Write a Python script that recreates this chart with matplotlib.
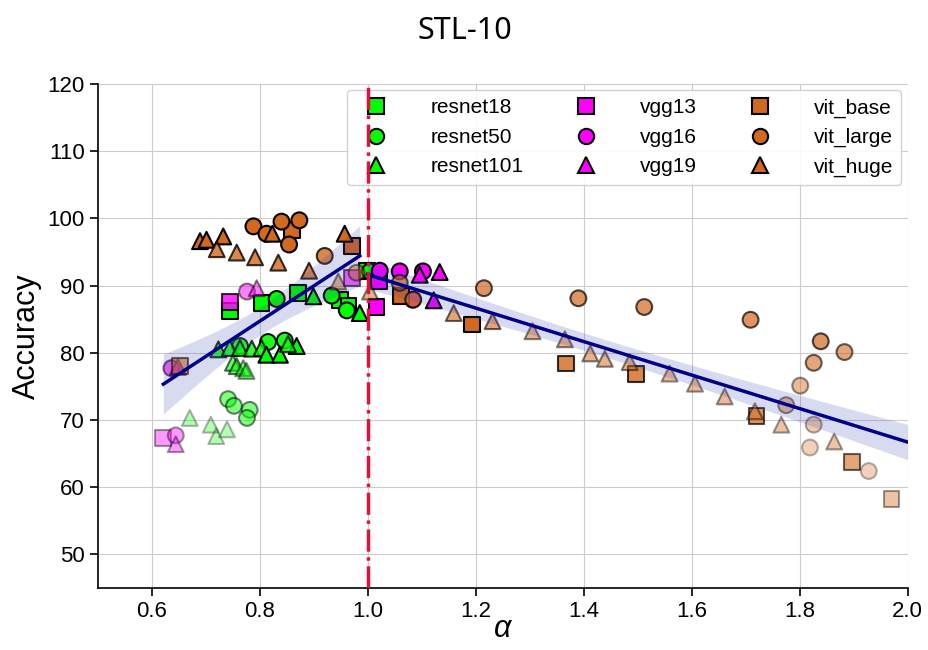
import numpy as np
import matplotlib
matplotlib.use("Agg")
import matplotlib.pyplot as plt
from matplotlib.lines import Line2D

plt.rcParams['font.family'] = ['Liberation Sans', 'DejaVu Sans']

# data: alpha (x) and accuracy (y) per model, plus point opacity
resnet18_x = [0.744, 0.803, 0.871, 0.948, 0.964, 0.999]
resnet18_y = [86.2, 87.4, 88.9, 87.9, 86.9, 92.1]
resnet18_op = [1.0, 1.0, 1.0, 1.0, 1.0, 1.0]

resnet50_x = [0.831, 0.933, 0.961, 1.004, 0.763, 0.815, 0.846, 0.741, 0.752, 0.781, 0.776]
resnet50_y = [88.0, 88.5, 86.3, 92.1, 81.0, 81.6, 81.8, 73.1, 72.1, 71.5, 70.3]
resnet50_op = [1.0, 1.0, 1.0, 1.0, 0.8, 0.9, 0.9, 0.5, 0.5, 0.5, 0.5]

resnet101_x = [0.723, 0.744, 0.763, 0.785, 0.803, 0.812, 0.837, 0.868, 0.852, 0.750, 0.757,
               0.769, 0.775, 0.670, 0.709, 0.719, 0.739, 0.899, 0.985]
resnet101_y = [80.5, 80.7, 80.7, 80.6, 80.7, 79.7, 79.7, 81.0, 81.3, 78.5, 78.0,
               77.7, 77.3, 70.3, 69.3, 67.6, 68.6, 88.4, 85.9]
resnet101_op = [0.8, 0.8, 0.8, 0.8, 0.8, 1.0, 1.0, 1.0, 0.8, 0.6, 0.6,
                0.5, 0.5, 0.3, 0.3, 0.3, 0.3, 1.0, 1.0]

vgg13_x = [0.744, 0.621, 0.970, 1.016, 1.021]
vgg13_y = [87.6, 67.3, 91.1, 86.8, 90.6]
vgg13_op = [0.8, 0.4, 0.6, 1.0, 1.0]

vgg16_x = [0.776, 0.644, 0.636, 1.022, 1.059, 1.102, 1.083]
vgg16_y = [89.1, 67.7, 77.7, 92.2, 92.1, 92.1, 87.9]
vgg16_op = [0.5, 0.4, 0.6, 1.0, 1.0, 1.0, 0.8]

vgg19_x = [0.794, 0.644, 0.648, 1.096, 1.133, 1.122]
vgg19_y = [89.6, 66.4, 77.9, 91.6, 92.0, 87.8]
vgg19_op = [0.5, 0.4, 0.6, 1.0, 1.0, 1.0]

vit_base_x = [0.652, 0.859, 0.970, 1.062, 1.193, 1.367, 1.497, 1.720, 1.897, 1.970]
vit_base_y = [78.0, 98.2, 95.9, 88.4, 84.2, 78.4, 76.8, 70.6, 63.8, 58.2]
vit_base_op = [0.6, 1.0, 1.0, 1.0, 1.0, 0.8, 0.8, 0.7, 0.6, 0.4]

vit_large_x = [0.788, 0.812, 0.840, 0.873, 0.854, 0.920, 0.979, 1.059, 1.084, 1.215, 1.390,
               1.512, 1.709, 1.839, 1.883, 1.826, 1.801, 1.775, 1.826, 1.819, 1.928]
vit_large_y = [98.8, 97.7, 99.5, 99.7, 96.1, 94.4, 91.9, 90.4, 87.9, 89.6, 88.1,
               86.8, 84.9, 81.7, 80.1, 78.5, 75.1, 72.2, 69.3, 65.9, 62.4]
vit_large_op = [1.0, 1.0, 1.0, 1.0, 1.0, 0.8, 0.5, 0.7, 0.8, 0.7, 0.7,
                0.7, 0.7, 0.7, 0.6, 0.6, 0.45, 0.45, 0.35, 0.3, 0.3]

vit_huge_x = [0.689, 0.701, 0.732, 0.720, 0.757, 0.791, 0.834, 0.891, 0.957, 0.823, 0.945,
              1.004, 1.159, 1.231, 1.305, 1.365, 1.412, 1.439, 1.485, 1.559, 1.606, 1.661,
              1.717, 1.766, 1.864]
vit_huge_y = [96.6, 96.8, 97.3, 95.4, 94.9, 94.2, 93.4, 92.2, 97.7, 97.7, 90.6,
              89.1, 85.9, 84.7, 83.2, 82.0, 79.9, 79.1, 78.6, 76.9, 75.4, 73.5,
              71.3, 69.3, 66.8]
vit_huge_op = [1.0, 1.0, 1.0, 0.8, 0.8, 0.8, 0.8, 0.8, 1.0, 1.0, 0.5,
               0.5, 0.6, 0.6, 0.5, 0.5, 0.5, 0.5, 0.5, 0.45, 0.45, 0.45,
               0.45, 0.4, 0.4]

models = [
    ("resnet18", resnet18_x, resnet18_y, resnet18_op, "s", "#00ff00"),
    ("resnet50", resnet50_x, resnet50_y, resnet50_op, "o", "#00ff00"),
    ("resnet101", resnet101_x, resnet101_y, resnet101_op, "^", "#00ff00"),
    ("vgg13", vgg13_x, vgg13_y, vgg13_op, "s", "#ff00ff"),
    ("vgg16", vgg16_x, vgg16_y, vgg16_op, "o", "#ff00ff"),
    ("vgg19", vgg19_x, vgg19_y, vgg19_op, "^", "#ff00ff"),
    ("vit_base", vit_base_x, vit_base_y, vit_base_op, "s", "#d2691e"),
    ("vit_large", vit_large_x, vit_large_y, vit_large_op, "o", "#d2691e"),
    ("vit_huge", vit_huge_x, vit_huge_y, vit_huge_op, "^", "#d2691e"),
]

fig = plt.figure(figsize=(9.29, 6.5), dpi=100)
ax = fig.add_axes([0.1055, 0.0954, 0.8715, 0.7756])

handles = []
all_x, all_y = [], []
for name, xs, ys, ops, mk, col in models:
    rgba = [matplotlib.colors.to_rgba(col, a) for a in ops]
    edge = [(0, 0, 0, a) for a in ops]
    ax.scatter(xs, ys, marker=mk, s=130, c=rgba, edgecolors=edge, linewidths=1.5, zorder=3)
    all_x += xs
    all_y += ys
    handles.append(Line2D([], [], marker=mk, linestyle="none", markersize=11,
                          markerfacecolor=col, markeredgecolor="black",
                          markeredgewidth=1.5, label=name))

all_x = np.array(all_x)
all_y = np.array(all_y)


# linear fit with 95% confidence band on each side of alpha = 1
def fit_band(mask, x_end=None):
    x = all_x[mask]
    y = all_y[mask]
    n = len(x)
    b, a = np.polyfit(x, y, 1)
    grid = np.linspace(x.min(), x_end if x_end else x.max(), 100)
    pred = a + b * grid
    resid = y - (a + b * x)
    s = np.sqrt(np.sum(resid ** 2) / (n - 2))
    se = s * np.sqrt(1 / n + (grid - x.mean()) ** 2 / np.sum((x - x.mean()) ** 2))
    ax.fill_between(grid, pred - 1.98 * se, pred + 1.98 * se, color="#3f48b5",
                    alpha=0.2, linewidth=0, zorder=4)
    ax.plot(grid, pred, color="#00008b", linewidth=2.5, zorder=5)


fit_band(all_x < 0.99)
fit_band(all_x >= 0.99, x_end=2.0)

ax.axvline(1.0, color="#dc143c", linestyle="-.", linewidth=2.5, zorder=6)

ax.set_xlim(0.5, 2.0)
ax.set_ylim(45, 120)
ax.set_xticks([0.6, 0.8, 1.0, 1.2, 1.4, 1.6, 1.8, 2.0])
ax.set_yticks(range(50, 121, 10))
ax.grid(True, color="#cccccc", linewidth=0.8)
ax.set_axisbelow(True)
ax.spines["top"].set_visible(False)
ax.spines["right"].set_visible(False)
ax.tick_params(labelsize=16, length=6, width=1.2)
for sp in ("left", "bottom"):
    ax.spines[sp].set_linewidth(1.2)

ax.set_xlabel("α", fontsize=22, fontstyle="italic", labelpad=-6)
ax.set_ylabel("Accuracy", fontsize=22)
fig.suptitle("STL-10", fontsize=22, family=["Noto Sans", "DejaVu Sans"], y=0.975)

ax.legend(handles=handles, ncol=3, loc="upper right", fontsize=15,
          handletextpad=1.6, columnspacing=2.0, borderaxespad=0.3,
          framealpha=0.9, fancybox=True)

fig.savefig("out.png", dpi=100)
